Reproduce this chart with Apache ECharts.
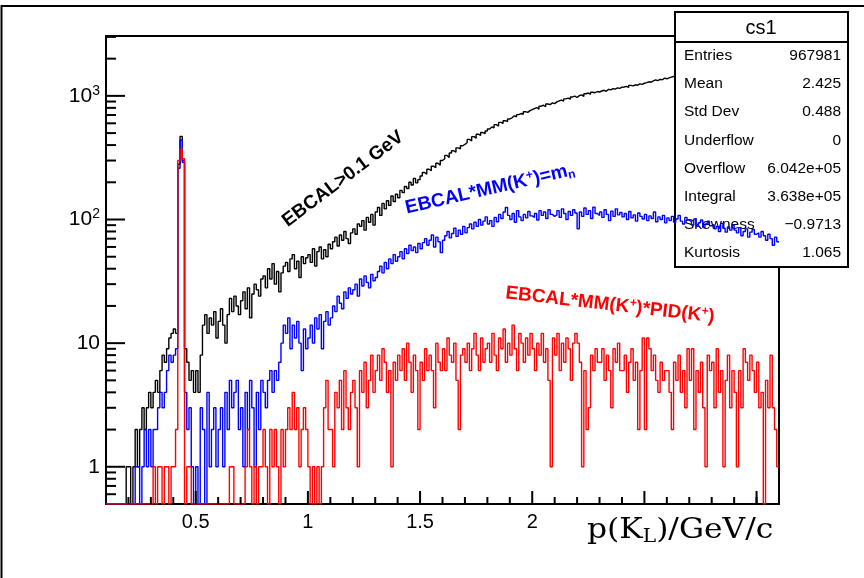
<!DOCTYPE html>
<html>
<head>
<meta charset="utf-8">
<script src="https://cdn.jsdelivr.net/npm/echarts@6/dist/echarts.min.js"></script>
<style>
  html, body { margin: 0; padding: 0; background: #fff; }
  #chart { width: 864px; height: 578px; }
</style>
</head>
<body>
<div id="chart"></div>
<script>
// Histogram binning: 300 bins of 0.01 GeV/c from 0.1 to 3.1
const xLow = 0.1;
const binWidth = 0.01;
const xHigh = 3.1;
const yMin = 0.5;
const yMax = 3050;

// EBCAL > 0.1 GeV
const countsEbcal = [
  0,0,0,0,0,0,0,0,0,1,
  1,0,1,2,1,2,3,2,3,4,
  3,4,5,4,6,8,7,9,11,12,
  13,12,280,470,300,9,7,5,6,4,
  6,4,8,14,17,12,16,14,18,11,
  15,19,14,10,17,23,18,24,20,17,
  22,26,19,28,16,25,30,27,24,33,
  35,28,40,33,44,30,38,26,37,42,
  45,38,48,52,40,46,34,50,44,49,
  52,45,58,42,55,60,48,57,50,63,
  58,66,72,61,75,68,80,70,64,78,
  84,76,92,88,98,82,104,95,110,90,
  115,125,108,135,122,142,130,155,140,160,
  150,172,165,185,178,200,190,215,198,210,
  225,240,232,255,248,270,262,285,275,300,
  310,330,318,345,360,350,380,372,395,405,
  420,445,432,468,455,490,478,505,495,520,
  540,560,552,585,570,610,598,630,620,650,
  665,690,678,705,720,710,745,735,760,775,
  790,805,780,825,840,818,860,850,878,865,
  895,910,925,905,945,960,940,980,995,970,
  1005,1020,990,1040,1055,1030,1070,1060,1085,1075,
  1095,1110,1090,1130,1120,1145,1135,1160,1150,1175,
  1180,1195,1170,1215,1205,1230,1220,1250,1240,1265,
  1280,1300,1290,1320,1345,1330,1360,1350,1390,1375,
  1400,1420,1440,1415,1455,1470,1450,1490,1480,1500,
  1510,1525,1505,1540,1530,1555,1545,1560,1575,1550,
  1580,1570,1595,1585,1600,1590,1610,1605,1595,1620,
  1615,1630,1610,1625,1640,1620,1635,1645,1630,1650,
  1640,1655,1630,1660,1650,1645,1665,1655,1670,1660
];

// EBCAL * MM(K+) = m_n
const countsMM = [
  0,0,0,0,0,0,0,0,0,0,
  0,0,0,1,1,0,1,2,1,2,
  1,2,2,3,4,3,4,6,8,7,
  8,9,260,440,290,4,2,3,1,0,
  1,0,3,2,0,4,1,2,3,1,
  2,3,1,4,2,5,3,4,5,2,
  3,1,4,2,5,3,1,4,2,5,
  4,3,5,6,4,6,5,7,10,14,
  12,16,9,14,11,15,10,6,13,9,
  11,14,10,16,13,17,9,15,18,14,
  16,20,18,24,21,19,26,23,28,25,
  27,30,24,33,29,35,31,28,36,32,
  34,38,42,37,45,40,48,44,52,46,
  50,55,48,58,53,62,56,60,54,64,
  58,65,70,62,68,75,60,72,66,54,
  68,74,80,71,77,85,73,82,76,88,
  78,86,92,84,95,88,100,90,97,105,
  92,98,88,104,96,110,102,115,125,108,
  100,112,95,118,105,98,110,103,116,107,
  104,112,99,118,108,115,102,120,110,106,
  109,118,104,122,112,100,116,108,120,113,
  84,115,106,124,110,118,102,126,112,108,
  115,104,120,110,98,117,106,122,109,114,
  105,112,100,116,103,109,97,113,106,101,
  110,98,107,102,115,96,105,100,108,94,
  103,98,106,95,101,108,97,92,104,99,
  96,90,101,88,94,99,86,92,97,89,
  91,84,88,80,93,85,79,87,82,90,
  82,78,86,74,80,84,72,79,83,76,
  78,72,80,74,68,76,70,62,72,66
];

// EBCAL * MM(K+) * PID(K+)
const countsPID = [
  0,0,0,0,0,0,0,0,0,0,
  0,0,0,0,0,0,0,0,0,0,
  0,1,0,1,1,0,1,1,0,1,
  1,2,300,370,310,0,1,1,0,0,
  0,0,0,0,0,0,0,0,0,0,
  0,0,0,0,0,1,1,0,0,0,
  0,0,1,2,1,0,1,0,1,1,
  2,1,0,2,1,2,1,0,2,1,
  2,3,2,4,2,3,1,2,3,2,
  1,0,1,0,1,0,1,3,5,2,
  2,1,4,3,5,2,6,3,2,4,
  5,3,1,6,4,7,3,5,8,4,
  6,8,5,9,7,4,6,1,7,5,
  8,6,9,5,10,7,4,8,6,2,
  7,5,9,6,8,6,3,10,7,6,
  9,6,11,8,7,10,5,2,8,9,
  7,10,6,9,12,8,6,11,7,9,
  10,7,12,8,6,11,9,13,7,10,
  8,14,9,6,12,10,7,11,8,12,
  9,6,10,8,12,7,9,5,1,11,
  8,12,6,10,7,11,9,5,10,12,
  10,7,1,6,2,3,8,6,9,7,
  7,9,5,8,6,3,9,7,10,6,
  6,8,4,7,9,5,7,2,6,11,
  2,11,9,6,8,5,4,7,5,6,
  6,4,2,7,5,8,4,6,3,9,
  5,9,2,6,4,7,3,1,8,6,
  7,3,9,4,6,1,5,8,3,6,
  4,1,6,3,9,7,5,8,6,4,
  7,3,4,0,5,3,8,3,2,1
];

// Axis ticks and tick labels
const xMajorTicks = [0.5, 1, 1.5, 2, 2.5, 3];
const xMinorTicks = [0.2, 0.3, 0.4, 0.6, 0.7, 0.8, 0.9, 1.1, 1.2, 1.3, 1.4, 1.6, 1.7, 1.8, 1.9,
  2.1, 2.2, 2.3, 2.4, 2.6, 2.7, 2.8, 2.9, 3.0];
const xTickValues = [0.5, 1, 1.5, 2];
const xTickLabels = ['0.5', '1', '1.5', '2'];
const yMajorTicks = [1, 10, 100, 1000];
const yTickLabels = ['1', '10', '10{sup|2}', '10{sup|3}'];
const yMinorTicks = [0.6, 0.7, 0.8, 0.9,
  2, 3, 4, 5, 6, 7, 8, 9,
  20, 30, 40, 50, 60, 70, 80, 90,
  200, 300, 400, 500, 600, 700, 800, 900,
  2000, 3000];

// Statistics box
const statTitle = 'cs1';
const statNames = ['Entries', 'Mean', 'Std Dev', 'Underflow', 'Overflow', 'Integral', 'Skewness', 'Kurtosis'];
const statValues = ['967981', '2.425', '0.488', '0', '6.042e+05', '3.638e+05', '\u22120.9713', '1.065'];

// Step outline: one point per lower bin edge plus the closing edge.
// Empty bins sit on the bottom of the log frame.
function histPoints(counts) {
  const pts = counts.map((c, i) => [+(xLow + i * binWidth).toFixed(3), c > 0 ? c : yMin]);
  const last = counts[counts.length - 1];
  pts.push([xHigh, last > 0 ? last : yMin]);
  return pts;
}

function histSeries(counts, color, z) {
  return {
    type: 'line',
    step: 'end',
    data: histPoints(counts),
    showSymbol: false,
    symbol: 'none',
    z: z,
    lineStyle: { color: color, width: 1.4 }
  };
}

const SANS = 'Liberation Sans, Arial, Helvetica, sans-serif';

const statElements = [
  { type: 'rect', shape: { x: 675, y: 12, width: 173, height: 255 },
    style: { fill: '#fff', stroke: '#000', lineWidth: 2 }, z: 3 },
  { type: 'line', shape: { x1: 675, y1: 42, x2: 848, y2: 42 },
    style: { stroke: '#000', lineWidth: 2 }, z: 3 },
  { type: 'text', x: 761, y: 28, z: 3,
    style: { text: statTitle, font: '20px ' + SANS, fill: '#000', align: 'center', verticalAlign: 'middle' } }
];
statNames.forEach((name, i) => {
  const y = 56 + i * 28.1;
  statElements.push({ type: 'text', x: 684, y: y, z: 3,
    style: { text: name, font: '15.5px ' + SANS, fill: '#000', align: 'left', verticalAlign: 'middle' } });
  statElements.push({ type: 'text', x: 841, y: y, z: 3,
    style: { text: statValues[i], font: '15.5px ' + SANS, fill: '#000', align: 'right', verticalAlign: 'middle' } });
});

const supStyle = (color) => ({ fontSize: 12, fontWeight: 'bold', fontFamily: SANS, fill: color, padding: [0, 0, 9, 0] });
const subStyle = (color) => ({ fontSize: 12, fontWeight: 'bold', fontFamily: SANS, fill: color, padding: [9, 0, 0, 0] });

const labelElements = [
  { type: 'text', x: 343, y: 179, rotation: 37 * Math.PI / 180, z: 8,
    style: { text: 'EBCAL>0.1 GeV', font: 'bold 19px ' + SANS, fill: '#000', align: 'center', verticalAlign: 'middle' } },
  { type: 'text', x: 490, y: 189, rotation: 13 * Math.PI / 180, z: 8,
    style: { text: 'EBCAL*MM(K{sup|+})=m{sub|n}', font: 'bold 19px ' + SANS, fill: '#0000ff',
      align: 'center', verticalAlign: 'middle',
      rich: { sup: supStyle('#0000ff'), sub: subStyle('#0000ff') } } },
  { type: 'text', x: 610, y: 305, rotation: -6.5 * Math.PI / 180, z: 8,
    style: { text: 'EBCAL*MM(K{sup|+})*PID(K{sup|+})', font: 'bold 19px ' + SANS, fill: '#ff0000',
      align: 'center', verticalAlign: 'middle',
      rich: { sup: supStyle('#ff0000') } } },
  { type: 'text', x: 587, y: 531, scaleX: 1.12, z: 8,
    style: { text: 'p(K{sub|L})/GeV/c', font: '28px DejaVu Serif, serif', fill: '#000',
      align: 'left', verticalAlign: 'middle',
      rich: { sub: { fontSize: 18, fontFamily: 'DejaVu Serif, serif', fill: '#000', padding: [13, 0, 0, 0] } } } },
  { type: 'rect', shape: { x: 1.5, y: 6, width: 900, height: 620 },
    style: { fill: 'none', stroke: '#000', lineWidth: 2 }, z: 8 }
];

const chart = echarts.init(document.getElementById('chart'));

chart.setOption({
  animation: false,
  backgroundColor: '#fff',
  textStyle: { fontFamily: SANS },
  grid: { left: 106, right: 85, top: 36, bottom: 74, show: true, borderColor: '#000', borderWidth: 2 },
  xAxis: {
    type: 'value', min: xLow, max: xHigh,
    axisLine: { show: true, onZero: false, lineStyle: { color: '#000', width: 2 } },
    axisTick: { show: false },
    minorTick: { show: false },
    splitLine: { show: false },
    axisLabel: {
      color: '#000', fontSize: 20, fontFamily: SANS, margin: 8,
      formatter: (v) => {
        const k = xTickValues.findIndex(t => Math.abs(t - v) < 1e-6);
        return k >= 0 ? xTickLabels[k] : '';
      }
    }
  },
  yAxis: {
    type: 'log', logBase: 10, min: yMin, max: yMax,
    axisLine: { show: true, lineStyle: { color: '#000', width: 2 } },
    axisTick: { show: false },
    splitLine: { show: false },
    axisLabel: {
      color: '#000', fontSize: 21, fontFamily: SANS, margin: 6,
      formatter: (v) => {
        const k = yMajorTicks.findIndex(t => Math.abs(t - v) / t < 1e-6);
        return k >= 0 ? yTickLabels[k] : '';
      },
      rich: { sup: { fontSize: 14, fontFamily: SANS, color: '#000', padding: [0, 0, 10, 0] } }
    }
  },
  series: [
    histSeries(countsEbcal, '#000000', 2),
    histSeries(countsMM, '#0000ff', 4),
    histSeries(countsPID, '#ff0000', 5)
  ]
});

// Tick marks placed through the grid's own conversion (ROOT style: pointing into the frame).
// The frame bottom is found from the 1 and 10 decades of the log scale.
const at = (x, y) => chart.convertToPixel({ gridIndex: 0 }, [x, y]);
const y1px = at(xLow, 1)[1];
const y10px = at(xLow, 10)[1];
const frameBottom = y1px + (y1px - y10px) * Math.log10(1 / yMin);
const frameLeft = at(xLow, 1)[0];

const tickElements = [];
function xTick(v, len) {
  const x = at(v, 1)[0];
  tickElements.push({ type: 'rect', shape: { x: x - 1, y: frameBottom - len, width: 2, height: len },
    style: { fill: '#000' }, z: 9 });
}
function yTick(v, len) {
  const y = at(xLow, v)[1];
  tickElements.push({ type: 'rect', shape: { x: frameLeft, y: y - 1, width: len, height: 2 },
    style: { fill: '#000' }, z: 9 });
}
xMajorTicks.forEach(v => xTick(v, 13));
xMinorTicks.forEach(v => xTick(v, 7));
yMajorTicks.forEach(v => yTick(v, 19));
yMinorTicks.forEach(v => yTick(v, 10));

chart.setOption({ graphic: { elements: statElements.concat(labelElements, tickElements) } });
</script>
</body>
</html>
